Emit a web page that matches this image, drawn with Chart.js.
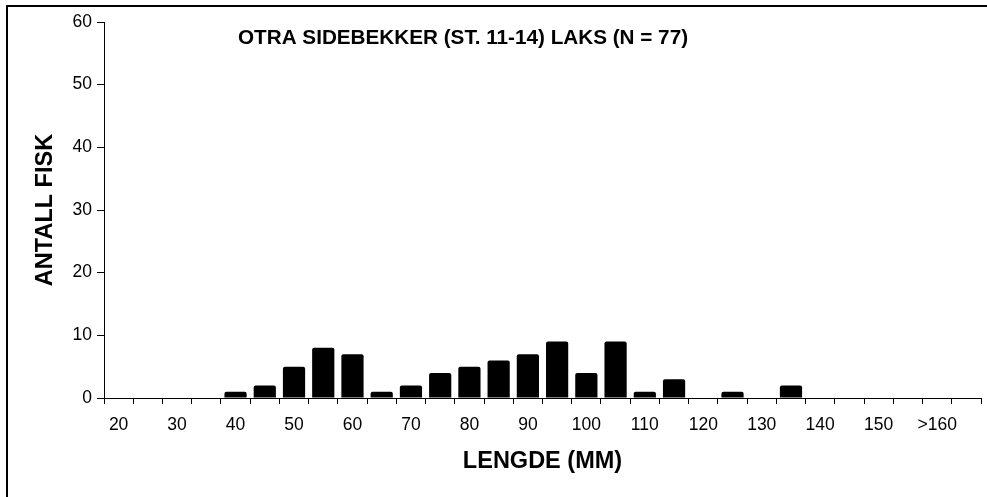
<!DOCTYPE html>
<html>
<head>
<meta charset="utf-8">
<script src="https://cdn.jsdelivr.net/npm/chart.js@4/dist/chart.umd.min.js"></script>
<style>
  html, body { margin: 0; padding: 0; background: #fff; }
  #myChart { display: block; }
</style>
</head>
<body>
<canvas id="myChart" width="987" height="497"></canvas>
<script>
var lengths = ['20', '25', '30', '35', '40', '45', '50', '55', '60', '65',
               '70', '75', '80', '85', '90', '95', '100', '105', '110', '115',
               '120', '125', '130', '135', '140', '145', '150', '155', '>160', ''];
var counts = [0, 0, 0, 0, 1, 2, 5, 8, 7, 1,
              2, 4, 5, 6, 7, 9, 4, 9, 1, 3,
              0, 1, 0, 2, 0, 0, 0, 0, 0, 0];
var yTicks = [0, 10, 20, 30, 40, 50, 60];
var chartTitle = 'OTRA SIDEBEKKER (ST. 11-14) LAKS (N = 77)';

var font = 'Arial, "Liberation Sans", sans-serif';

// frame + title drawn on top of the canvas
var framePlugin = {
  id: 'frame',
  beforeDraw: function(chart) {
    var c = chart.ctx;
    c.save();
    c.fillStyle = '#fff';
    c.fillRect(0, 0, chart.width, chart.height);
    c.strokeStyle = '#000';
    c.lineWidth = 2;
    c.beginPath();
    c.moveTo(7, chart.height + 2);
    c.lineTo(7, 6);
    c.lineTo(chart.width + 2, 6);
    c.stroke();
    c.restore();
  },
  afterDraw: function(chart) {
    var c = chart.ctx;
    c.save();
    c.font = 'bold 20.7px ' + font;
    c.fillStyle = '#000';
    c.textAlign = 'center';
    c.textBaseline = 'middle';
    c.fillText(chartTitle, 463, 38);
    c.restore();
  }
};

var ctx = document.getElementById('myChart').getContext('2d');
var myChart = new Chart(ctx, {
  type: 'bar',
  data: {
    labels: lengths,
    datasets: [{
      label: 'Antall fisk',
      data: counts,
      backgroundColor: '#000',
      borderRadius: 2,
      barPercentage: 0.76,
      categoryPercentage: 1.0
    }]
  },
  options: {
    responsive: false,
    devicePixelRatio: 1,
    animation: false,
    layout: { padding: { left: 31, right: 6, top: 22, bottom: 21 } },
    plugins: {
      legend: { display: false },
      tooltip: { enabled: false }
    },
    scales: {
      x: {
        grid: { offset: true, drawOnChartArea: false, tickLength: 6, color: '#000', lineWidth: 1 },
        border: { color: '#000', width: 1 },
        ticks: {
          autoSkip: false,
          maxRotation: 0,
          padding: 11,
          color: '#000',
          font: { family: font, size: 17.5 },
          callback: function(value, index) {
            return index % 2 === 0 ? lengths[index] : '';
          }
        },
        title: {
          display: true,
          text: 'LENGDE (MM)',
          color: '#000',
          font: { family: font, size: 23.5, weight: 'bold' },
          padding: { top: 0, bottom: 0 }
        },
        afterFit: function(scale) { scale.height = 78; }
      },
      y: {
        min: 0,
        max: 60,
        afterBuildTicks: function(scale) {
          scale.ticks = yTicks.map(function(v) { return { value: v }; });
        },
        grid: { drawOnChartArea: false, tickLength: 7, color: '#000', lineWidth: 1 },
        border: { color: '#000', width: 1 },
        ticks: {
          padding: 5,
          color: '#000',
          font: { family: font, size: 17.5 }
        },
        title: {
          display: true,
          text: 'ANTALL FISK',
          color: '#000',
          font: { family: font, size: 23.5, weight: 'bold' },
          padding: { top: 0, bottom: 0 }
        },
        afterFit: function(scale) { scale.width = 73; }
      }
    }
  },
  plugins: [framePlugin]
});
</script>
</body>
</html>
